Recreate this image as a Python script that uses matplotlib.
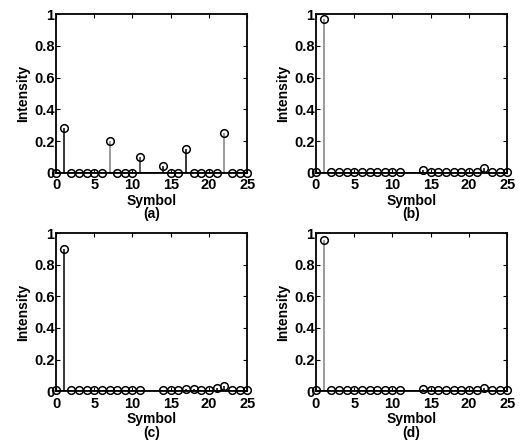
import numpy as np
import matplotlib
matplotlib.use('Agg')
import matplotlib.pyplot as plt

plt.rcParams['font.family'] = ['Liberation Sans', 'DejaVu Sans']
plt.rcParams['font.weight'] = 'bold'

# symbol indices (12 and 13 are absent in every panel)
symbols = [0, 1, 2, 3, 4, 5, 6, 7, 8, 9, 10, 11, 14, 15, 16, 17, 18, 19, 20, 21, 22, 23, 24, 25]

# intensities
intensity_a = [0, 0.285, 0, 0, 0, 0, 0, 0.2, 0, 0, 0, 0.1,
               0.045, 0, 0, 0.15, 0, 0, 0, 0, 0.25, 0, 0, 0]
intensity_b = [0.005, 0.97, 0.005, 0.005, 0.005, 0.006, 0.005, 0.005, 0.005, 0.005, 0.004, 0.005,
               0.02, 0.004, 0.005, 0.005, 0.005, 0.005, 0.004, 0.005, 0.03, 0.005, 0.005, 0.005]
intensity_c = [0.005, 0.9, 0.005, 0.005, 0.005, 0.006, 0.005, 0.005, 0.006, 0.005, 0.005, 0.005,
               0.01, 0.005, 0.006, 0.012, 0.012, 0.006, 0.006, 0.02, 0.035, 0.006, 0.005, 0.005]
intensity_d = [0.005, 0.96, 0.005, 0.005, 0.005, 0.006, 0.005, 0.005, 0.005, 0.005, 0.005, 0.005,
               0.012, 0.005, 0.006, 0.006, 0.006, 0.005, 0.005, 0.005, 0.02, 0.005, 0.005, 0.005]

# stem shades (some stems in the original are printed grey)
stems_a = ['k', 'k', 'k', 'k', 'k', 'k', 'k', '#808080', 'k', 'k', 'k', '#303030',
           'k', 'k', 'k', 'k', 'k', 'k', 'k', 'k', '#808080', 'k', 'k', 'k']
stems_b = ['k', '#808080'] + ['k'] * 22
stems_c = ['k'] * 24
stems_d = ['k', '#808080'] + ['k'] * 22

panels = [
    (intensity_a, stems_a, '(a)', [0.1075, 0.607, 0.367, 0.361]),
    (intensity_b, stems_b, '(b)', [0.6065, 0.607, 0.367, 0.361]),
    (intensity_c, stems_c, '(c)', [0.1075, 0.111, 0.367, 0.359]),
    (intensity_d, stems_d, '(d)', [0.6065, 0.111, 0.367, 0.359]),
]

fig = plt.figure(figsize=(5.21, 4.40), dpi=100)

for vals, cols, tag, pos in panels:
    ax = fig.add_axes(pos)
    ax.vlines(symbols, 0, vals, colors=cols, linewidth=1.1, zorder=2)
    ax.axhline(0, color='k', linewidth=2, zorder=3)
    ax.plot(symbols, vals, 'o', markersize=5.5, markerfacecolor='none',
            markeredgecolor='k', markeredgewidth=1.1, clip_on=False, zorder=4)
    ax.set_xlim(0, 25)
    ax.set_ylim(0, 1)
    ax.set_xticks([0, 5, 10, 15, 20, 25])
    ax.set_yticks([0, 0.2, 0.4, 0.6, 0.8, 1])
    ax.set_yticklabels(['0', '0.2', '0.4', '0.6', '0.8', '1'])
    ax.tick_params(axis='x', pad=4)
    ax.tick_params(axis='y', pad=1)
    ax.tick_params(direction='in', top=True, right=True, length=3, width=0.8,
                   labelsize=10.5)
    for lab in ax.get_xticklabels() + ax.get_yticklabels():
        lab.set_fontweight('bold')
    for sp in ax.spines.values():
        sp.set_linewidth(1.3)
    ax.set_ylabel('Intensity', fontsize=10, fontweight='bold', labelpad=3)
    ax.set_xlabel('Symbol\n' + tag, fontsize=10, fontweight='bold', labelpad=1,
                  linespacing=0.95)

fig.savefig('out.png', dpi=100)
